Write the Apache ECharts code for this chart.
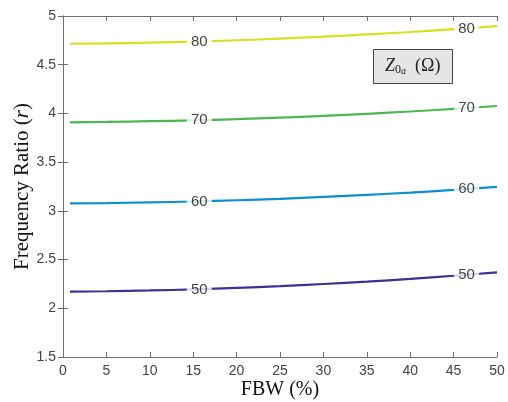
<!DOCTYPE html>
<html><head><meta charset="utf-8">
<script src="https://cdn.jsdelivr.net/npm/echarts@6/dist/echarts.min.js"></script>
<style>html,body{margin:0;padding:0;background:#fff}#c{width:508px;height:402px}</style>
</head><body><div id="c"></div>
<script>
var fbw = [0.8, 5, 10, 15, 20, 25, 30, 35, 40, 45, 50];
var z50 = [2.170, 2.175, 2.183, 2.194, 2.209, 2.227, 2.249, 2.274, 2.302, 2.334, 2.369];
var z60 = [3.076, 3.080, 3.087, 3.096, 3.109, 3.124, 3.143, 3.164, 3.188, 3.215, 3.246];
var z70 = [3.909, 3.913, 3.920, 3.929, 3.941, 3.957, 3.975, 3.996, 4.020, 4.046, 4.076];
var z80 = [4.715, 4.719, 4.727, 4.737, 4.751, 4.768, 4.788, 4.811, 4.836, 4.866, 4.896];
var levels = ['50', '60', '70', '80'];
var levelColors = ['#3d2f95', '#0a8fd3', '#4bb84f', '#d9df1f'];
var labelX = [15.7, 46.5];
var labelY = {'50': [2.194, 2.34], '60': [3.097, 3.224], '70': [3.930, 4.056], '80': [4.736, 4.870]};

var curves = {'50': z50, '60': z60, '70': z70, '80': z80};
var series = [];
levels.forEach(function (lv, i) {
  series.push({
    type: 'line', data: fbw.map(function (x, k) { return [x, curves[lv][k]]; }),
    showSymbol: false, smooth: true, lineStyle: {color: levelColors[i], width: 2.2}, z: 2
  });
});
levels.forEach(function (lv) {
  series.push({
    type: 'scatter', z: 5, symbol: 'rect', symbolSize: [25, 14],
    itemStyle: {color: '#fff'},
    data: labelX.map(function (x, k) { return [x, labelY[lv][k]]; }),
    label: {show: true, position: 'inside', formatter: lv, color: '#111',
      fontFamily: 'Liberation Sans', fontSize: 15},
    emphasis: {disabled: true}
  });
});

var axCol = '#6e6e6e';
var chart = echarts.init(document.getElementById('c'), null, {renderer: 'canvas'});
chart.setOption({
  animation: false,
  grid: {left: 63, right: 11, top: 16, bottom: 45, containLabel: false, outerBoundsMode: 'none'},
  title: {
    text: '{z|Z}{s|0}{ss|a}{p|  (Ω)}',
    left: 373, top: 48,
    backgroundColor: '#e5e5e5', borderColor: '#444', borderWidth: 1,
    padding: [8, 12, 8, 12],
    textStyle: {
      fontWeight: 'normal',
      rich: {
        z: {fontFamily: 'Liberation Serif', fontStyle: 'italic', fontWeight: 'normal', fontSize: 18, color: '#222'},
        s: {fontFamily: 'Liberation Serif', fontWeight: 'normal', fontSize: 12, color: '#222', verticalAlign: 'bottom', padding: [7, 0, 0, 0]},
        ss: {fontFamily: 'Liberation Serif', fontStyle: 'italic', fontWeight: 'normal', fontSize: 10, color: '#222', verticalAlign: 'bottom', padding: [10, 0, 0, 0]},
        p: {fontFamily: 'Liberation Serif', fontWeight: 'normal', fontSize: 18, color: '#222'}
      }
    }
  },
  xAxis: [{
    type: 'value', min: 0, max: 50, interval: 5,
    name: 'FBW (%)', nameLocation: 'middle', nameGap: 23, nameMoveOverlap: false,
    nameTextStyle: {fontFamily: 'Liberation Serif', fontSize: 20, color: '#111'},
    axisLine: {lineStyle: {color: axCol}},
    axisTick: {inside: true, length: 5, lineStyle: {color: axCol}},
    axisLabel: {fontFamily: 'Liberation Sans', fontSize: 14, color: '#444', margin: 7},
    splitLine: {show: false}
  }, {
    type: 'value', min: 0, max: 50, interval: 5, position: 'top',
    axisLine: {show: true, lineStyle: {color: axCol}},
    axisTick: {inside: true, length: 5, lineStyle: {color: axCol}},
    axisLabel: {show: false}, splitLine: {show: false}
  }],
  yAxis: [{
    type: 'value', min: 1.5, max: 5, interval: 0.5,
    name: '{t|Frequency Ratio (}{i|r}{t|)}', nameLocation: 'middle', nameGap: 30, nameRotate: 90, nameMoveOverlap: false,
    nameTextStyle: {rich: {
      t: {fontFamily: 'Liberation Serif', fontSize: 21, color: '#111'},
      i: {fontFamily: 'Liberation Serif', fontStyle: 'italic', fontSize: 21, color: '#111'}
    }},
    axisLine: {show: true, lineStyle: {color: axCol}},
    axisTick: {show: true, inside: true, length: 5, lineStyle: {color: axCol}},
    axisLabel: {fontFamily: 'Liberation Sans', fontSize: 14, color: '#444', margin: 7},
    splitLine: {show: false}
  }, {
    type: 'value', min: 1.5, max: 5, interval: 0.5, position: 'right',
    axisLine: {show: true, lineStyle: {color: axCol}},
    axisTick: {show: true, inside: true, length: 5, lineStyle: {color: axCol}},
    axisLabel: {show: false}, splitLine: {show: false}
  }],
  series: series
});
</script></body></html>
